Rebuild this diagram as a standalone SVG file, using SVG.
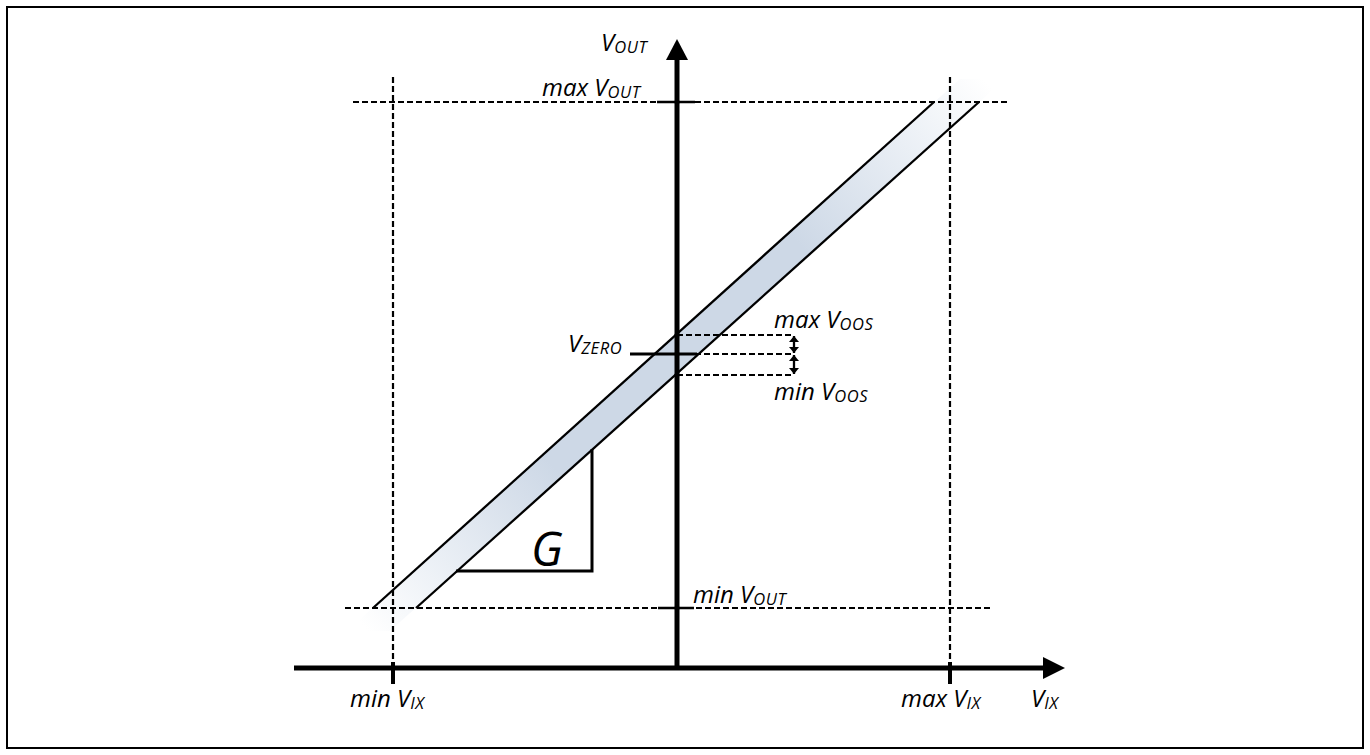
<svg xmlns="http://www.w3.org/2000/svg" width="1370" height="755" viewBox="0 0 1370 755">
<style>
.lbl{font-family:"Open Sans","Liberation Sans",sans-serif;font-style:italic;font-size:24px;fill:#000}
.sub{font-size:16.5px;letter-spacing:0.6px}
.dash{stroke:#000;stroke-width:2.2;stroke-dasharray:6 3;fill:none}
.axis{stroke:#000;stroke-width:5;fill:none}
.thin{stroke:#000;stroke-width:2.3;fill:none}
.tick{stroke:#000;stroke-width:4;fill:none}
</style>
<defs>
<linearGradient id="bandGrad" gradientUnits="userSpaceOnUse" x1="368" y1="631" x2="983" y2="79">
<stop offset="0" stop-color="#ffffff"/>
<stop offset="0.1" stop-color="#eef2f7"/>
<stop offset="0.3" stop-color="#cdd8e6"/>
<stop offset="0.7" stop-color="#cdd8e6"/>
<stop offset="0.9" stop-color="#eef2f7"/>
<stop offset="1" stop-color="#ffffff"/>
</linearGradient>
<marker id="sa" viewBox="0 0 10 10" refX="10" refY="5" markerWidth="6" markerHeight="10" markerUnits="userSpaceOnUse" preserveAspectRatio="none" orient="auto-start-reverse">
<path d="M0,0 L10,5 L0,10 z" fill="#000"/>
</marker>
</defs>
<rect x="7" y="7" width="1356" height="741" fill="#fff" stroke="#000" stroke-width="2"/>

<g id="band">
<polygon points="347,631 390,631 1005,79 960,79" fill="url(#bandGrad)"/>
<line class="thin" x1="373" y1="608" x2="934" y2="102"/>
<line class="thin" x1="416" y1="608" x2="979" y2="102"/>
</g>

<g id="guides">
<line class="dash" x1="353" y1="102" x2="1007" y2="102"/>
<line class="dash" x1="345" y1="608" x2="992" y2="608"/>
<line class="dash" x1="393" y1="77" x2="393" y2="664"/>
<line class="dash" x1="950" y1="77" x2="950" y2="664"/>
<line class="dash" x1="677" y1="335" x2="794" y2="335"/>
<line class="dash" x1="677" y1="354" x2="794" y2="354"/>
<line class="dash" x1="677" y1="375" x2="794" y2="375"/>
</g>

<g id="triangle">
<polyline points="592,449 592,571 456,571" fill="none" stroke="#000" stroke-width="3"/>
<text class="lbl" x="531" y="566" style="font-size:47px">G</text>
</g>

<g id="axes">
<line class="axis" x1="677" y1="56" x2="677" y2="670"/>
<polygon points="666,60 688,60 677,39" fill="#000"/>
<line class="axis" x1="294" y1="668" x2="1045" y2="668"/>
<polygon points="1043,657 1043,679 1065,668" fill="#000"/>
</g>

<g id="ticks">
<line class="thin" x1="657" y1="102" x2="695" y2="102"/>
<line class="thin" x1="658" y1="608" x2="694" y2="608"/>
<line x1="630" y1="354" x2="697" y2="354" stroke="#000" stroke-width="3"/>
<line class="tick" x1="393" y1="662" x2="393" y2="684"/>
<line class="tick" x1="950" y1="662" x2="950" y2="684"/>
<circle cx="677" cy="102" r="2.5"/>
<circle cx="677" cy="608" r="2.5"/>
<circle cx="677" cy="335" r="2.5"/>
<circle cx="677" cy="354" r="2.5"/>
<circle cx="677" cy="375" r="2.5"/>
</g>

<g id="connectors">
<line class="thin" x1="794" y1="336" x2="794" y2="353" marker-start="url(#sa)" marker-end="url(#sa)"/>
<line class="thin" x1="794" y1="355" x2="794" y2="374" marker-start="url(#sa)" marker-end="url(#sa)"/>
</g>

<g id="labels">
<text class="lbl" x="601" y="51">V<tspan class="sub" dy="2">OUT</tspan></text>
<text class="lbl" x="542" y="96">max V<tspan class="sub" dy="2">OUT</tspan></text>
<text class="lbl" x="693" y="603">min V<tspan class="sub" dy="2">OUT</tspan></text>
<text class="lbl" x="774" y="328">max V<tspan class="sub" dy="2">OOS</tspan></text>
<text class="lbl" x="774" y="400">min V<tspan class="sub" dy="2">OOS</tspan></text>
<text class="lbl" x="568" y="352">V<tspan class="sub" dy="2">ZERO</tspan></text>
<text class="lbl" x="350" y="707">min V<tspan class="sub" dy="2">IX</tspan></text>
<text class="lbl" x="901" y="707">max V<tspan class="sub" dy="2">IX</tspan></text>
<text class="lbl" x="1031" y="707">V<tspan class="sub" dy="2">IX</tspan></text>
</g>
</svg>
